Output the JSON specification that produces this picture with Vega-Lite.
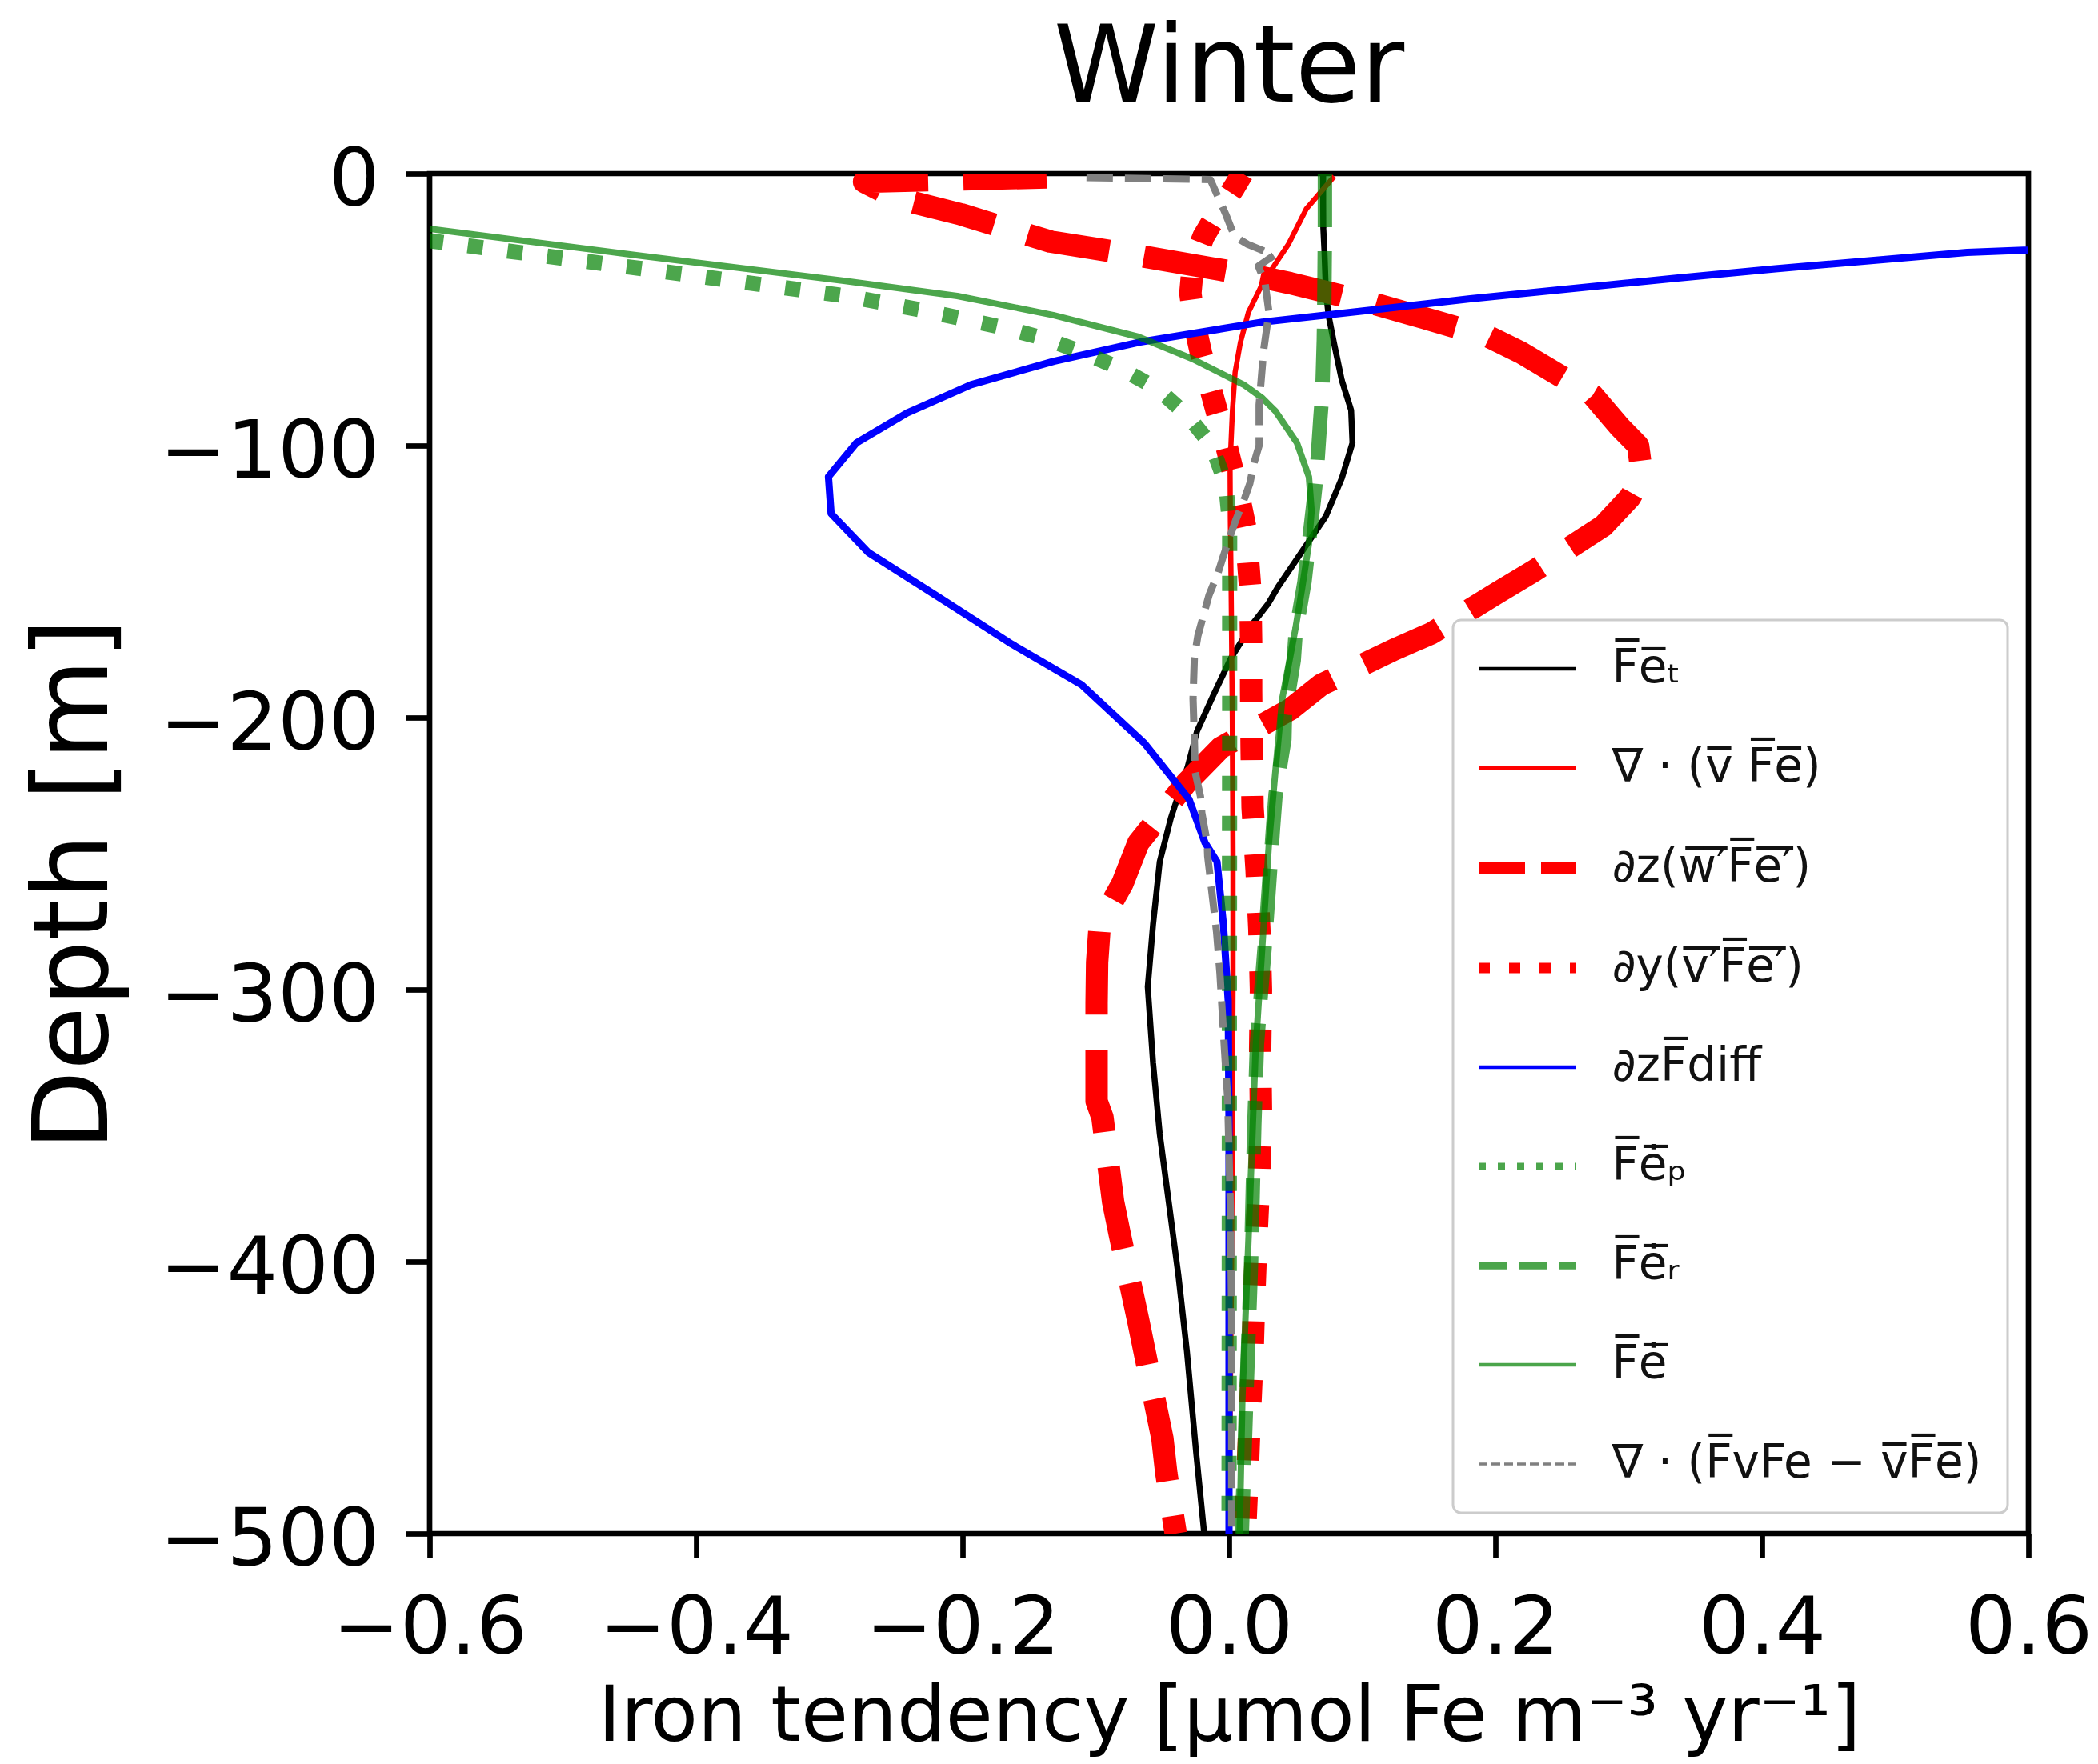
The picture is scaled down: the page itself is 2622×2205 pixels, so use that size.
{
  "$schema": "https://vega.github.io/schema/vega-lite/v6.json",
  "autosize": {"type": "none"},
  "width": 1998,
  "height": 1700,
  "padding": {"left": 537, "top": 217, "right": 87, "bottom": 288},
  "background": "white",
  "title": {"text": "Winter", "font": "DejaVu Sans", "fontSize": 133, "fontWeight": "normal", "color": "black", "anchor": "middle", "baseline": "alphabetic", "offset": 42, "dy": 126},
  "config": {
    "view": {"stroke": "black", "strokeWidth": 6.7},
    "axis": {"grid": false, "domain": false, "tickColor": "black", "tickWidth": 6.7, "tickSize": 30, "labelFont": "DejaVu Sans", "labelFontSize": 100, "labelColor": "black", "labelLimit": 1000, "labelOverlap": false, "labelFlush": false, "labelBound": false, "titleFont": "DejaVu Sans", "titleFontWeight": "normal", "titleColor": "black", "titleLimit": 3000}
  },
  "data": {"values": [
    {"series": "F\u0305e\u0305\u209c", "depth": 0, "tendency": 0.0707},
    {"series": "F\u0305e\u0305\u209c", "depth": -10, "tendency": 0.0707},
    {"series": "F\u0305e\u0305\u209c", "depth": -20, "tendency": 0.0708},
    {"series": "F\u0305e\u0305\u209c", "depth": -29, "tendency": 0.0717},
    {"series": "F\u0305e\u0305\u209c", "depth": -43, "tendency": 0.0727},
    {"series": "F\u0305e\u0305\u209c", "depth": -52, "tendency": 0.0747},
    {"series": "F\u0305e\u0305\u209c", "depth": -62, "tendency": 0.0787},
    {"series": "F\u0305e\u0305\u209c", "depth": -76, "tendency": 0.0847},
    {"series": "F\u0305e\u0305\u209c", "depth": -87, "tendency": 0.0917},
    {"series": "F\u0305e\u0305\u209c", "depth": -99, "tendency": 0.0927},
    {"series": "F\u0305e\u0305\u209c", "depth": -112, "tendency": 0.0847},
    {"series": "F\u0305e\u0305\u209c", "depth": -126, "tendency": 0.0727},
    {"series": "F\u0305e\u0305\u209c", "depth": -139, "tendency": 0.0547},
    {"series": "F\u0305e\u0305\u209c", "depth": -152, "tendency": 0.0367},
    {"series": "F\u0305e\u0305\u209c", "depth": -158, "tendency": 0.0296},
    {"series": "F\u0305e\u0305\u209c", "depth": -166, "tendency": 0.017},
    {"series": "F\u0305e\u0305\u209c", "depth": -178, "tendency": 0.0016},
    {"series": "F\u0305e\u0305\u209c", "depth": -192, "tendency": -0.012},
    {"series": "F\u0305e\u0305\u209c", "depth": -205, "tendency": -0.024},
    {"series": "F\u0305e\u0305\u209c", "depth": -218, "tendency": -0.031},
    {"series": "F\u0305e\u0305\u209c", "depth": -237, "tendency": -0.0437},
    {"series": "F\u0305e\u0305\u209c", "depth": -253, "tendency": -0.052},
    {"series": "F\u0305e\u0305\u209c", "depth": -276, "tendency": -0.057},
    {"series": "F\u0305e\u0305\u209c", "depth": -299, "tendency": -0.061},
    {"series": "F\u0305e\u0305\u209c", "depth": -327, "tendency": -0.057},
    {"series": "F\u0305e\u0305\u209c", "depth": -353, "tendency": -0.052},
    {"series": "F\u0305e\u0305\u209c", "depth": -379, "tendency": -0.045},
    {"series": "F\u0305e\u0305\u209c", "depth": -405, "tendency": -0.038},
    {"series": "F\u0305e\u0305\u209c", "depth": -433, "tendency": -0.0316},
    {"series": "F\u0305e\u0305\u209c", "depth": -470, "tendency": -0.0247},
    {"series": "F\u0305e\u0305\u209c", "depth": -500, "tendency": -0.0186},

    {"series": "\u2207 \u00b7 (v\u0305 F\u0305e\u0305)", "depth": -1, "tendency": 0.079},
    {"series": "\u2207 \u00b7 (v\u0305 F\u0305e\u0305)", "depth": -13, "tendency": 0.058},
    {"series": "\u2207 \u00b7 (v\u0305 F\u0305e\u0305)", "depth": -26, "tendency": 0.0446},
    {"series": "\u2207 \u00b7 (v\u0305 F\u0305e\u0305)", "depth": -33, "tendency": 0.035},
    {"series": "\u2207 \u00b7 (v\u0305 F\u0305e\u0305)", "depth": -41, "tendency": 0.0246},
    {"series": "\u2207 \u00b7 (v\u0305 F\u0305e\u0305)", "depth": -51, "tendency": 0.0146},
    {"series": "\u2207 \u00b7 (v\u0305 F\u0305e\u0305)", "depth": -62, "tendency": 0.0086},
    {"series": "\u2207 \u00b7 (v\u0305 F\u0305e\u0305)", "depth": -73, "tendency": 0.0046},
    {"series": "\u2207 \u00b7 (v\u0305 F\u0305e\u0305)", "depth": -87, "tendency": 0.0026},
    {"series": "\u2207 \u00b7 (v\u0305 F\u0305e\u0305)", "depth": -107, "tendency": 0.0008},
    {"series": "\u2207 \u00b7 (v\u0305 F\u0305e\u0305)", "depth": -127, "tendency": 0.001},
    {"series": "\u2207 \u00b7 (v\u0305 F\u0305e\u0305)", "depth": -152, "tendency": 0.0016},
    {"series": "\u2207 \u00b7 (v\u0305 F\u0305e\u0305)", "depth": -200, "tendency": 0.0025},
    {"series": "\u2207 \u00b7 (v\u0305 F\u0305e\u0305)", "depth": -250, "tendency": 0.003},
    {"series": "\u2207 \u00b7 (v\u0305 F\u0305e\u0305)", "depth": -300, "tendency": 0.003},
    {"series": "\u2207 \u00b7 (v\u0305 F\u0305e\u0305)", "depth": -350, "tendency": 0.0025},
    {"series": "\u2207 \u00b7 (v\u0305 F\u0305e\u0305)", "depth": -400, "tendency": 0.002},
    {"series": "\u2207 \u00b7 (v\u0305 F\u0305e\u0305)", "depth": -450, "tendency": 0.001},
    {"series": "\u2207 \u00b7 (v\u0305 F\u0305e\u0305)", "depth": -500, "tendency": 0.0},

    {"series": "\u2202z(w\u0305\u2032\u0305F\u0305e\u0305\u2032\u0305)", "depth": -1.4, "tendency": -0.137},
    {"series": "\u2202z(w\u0305\u2032\u0305F\u0305e\u0305\u2032\u0305)", "depth": -3, "tendency": -0.274},
    {"series": "\u2202z(w\u0305\u2032\u0305F\u0305e\u0305\u2032\u0305)", "depth": -9, "tendency": -0.25},
    {"series": "\u2202z(w\u0305\u2032\u0305F\u0305e\u0305\u2032\u0305)", "depth": -15, "tendency": -0.201},
    {"series": "\u2202z(w\u0305\u2032\u0305F\u0305e\u0305\u2032\u0305)", "depth": -21, "tendency": -0.161},
    {"series": "\u2202z(w\u0305\u2032\u0305F\u0305e\u0305\u2032\u0305)", "depth": -25, "tendency": -0.134},
    {"series": "\u2202z(w\u0305\u2032\u0305F\u0305e\u0305\u2032\u0305)", "depth": -30, "tendency": -0.07},
    {"series": "\u2202z(w\u0305\u2032\u0305F\u0305e\u0305\u2032\u0305)", "depth": -37.5, "tendency": 0.019},
    {"series": "\u2202z(w\u0305\u2032\u0305F\u0305e\u0305\u2032\u0305)", "depth": -40.3, "tendency": 0.046},
    {"series": "\u2202z(w\u0305\u2032\u0305F\u0305e\u0305\u2032\u0305)", "depth": -47.7, "tendency": 0.108},
    {"series": "\u2202z(w\u0305\u2032\u0305F\u0305e\u0305\u2032\u0305)", "depth": -51.6, "tendency": 0.136},
    {"series": "\u2202z(w\u0305\u2032\u0305F\u0305e\u0305\u2032\u0305)", "depth": -60, "tendency": 0.195},
    {"series": "\u2202z(w\u0305\u2032\u0305F\u0305e\u0305\u2032\u0305)", "depth": -66, "tendency": 0.22},
    {"series": "\u2202z(w\u0305\u2032\u0305F\u0305e\u0305\u2032\u0305)", "depth": -81.5, "tendency": 0.273},
    {"series": "\u2202z(w\u0305\u2032\u0305F\u0305e\u0305\u2032\u0305)", "depth": -93, "tendency": 0.293},
    {"series": "\u2202z(w\u0305\u2032\u0305F\u0305e\u0305\u2032\u0305)", "depth": -100, "tendency": 0.307},
    {"series": "\u2202z(w\u0305\u2032\u0305F\u0305e\u0305\u2032\u0305)", "depth": -111, "tendency": 0.31},
    {"series": "\u2202z(w\u0305\u2032\u0305F\u0305e\u0305\u2032\u0305)", "depth": -119, "tendency": 0.301},
    {"series": "\u2202z(w\u0305\u2032\u0305F\u0305e\u0305\u2032\u0305)", "depth": -129.5, "tendency": 0.281},
    {"series": "\u2202z(w\u0305\u2032\u0305F\u0305e\u0305\u2032\u0305)", "depth": -146, "tendency": 0.229},
    {"series": "\u2202z(w\u0305\u2032\u0305F\u0305e\u0305\u2032\u0305)", "depth": -154, "tendency": 0.202},
    {"series": "\u2202z(w\u0305\u2032\u0305F\u0305e\u0305\u2032\u0305)", "depth": -169, "tendency": 0.152},
    {"series": "\u2202z(w\u0305\u2032\u0305F\u0305e\u0305\u2032\u0305)", "depth": -175, "tendency": 0.124},
    {"series": "\u2202z(w\u0305\u2032\u0305F\u0305e\u0305\u2032\u0305)", "depth": -188, "tendency": 0.069},
    {"series": "\u2202z(w\u0305\u2032\u0305F\u0305e\u0305\u2032\u0305)", "depth": -197, "tendency": 0.046},
    {"series": "\u2202z(w\u0305\u2032\u0305F\u0305e\u0305\u2032\u0305)", "depth": -211, "tendency": -0.006},
    {"series": "\u2202z(w\u0305\u2032\u0305F\u0305e\u0305\u2032\u0305)", "depth": -224, "tendency": -0.032},
    {"series": "\u2202z(w\u0305\u2032\u0305F\u0305e\u0305\u2032\u0305)", "depth": -246, "tendency": -0.068},
    {"series": "\u2202z(w\u0305\u2032\u0305F\u0305e\u0305\u2032\u0305)", "depth": -261, "tendency": -0.08},
    {"series": "\u2202z(w\u0305\u2032\u0305F\u0305e\u0305\u2032\u0305)", "depth": -276, "tendency": -0.097},
    {"series": "\u2202z(w\u0305\u2032\u0305F\u0305e\u0305\u2032\u0305)", "depth": -290, "tendency": -0.099},
    {"series": "\u2202z(w\u0305\u2032\u0305F\u0305e\u0305\u2032\u0305)", "depth": -305, "tendency": -0.0994},
    {"series": "\u2202z(w\u0305\u2032\u0305F\u0305e\u0305\u2032\u0305)", "depth": -341, "tendency": -0.0994},
    {"series": "\u2202z(w\u0305\u2032\u0305F\u0305e\u0305\u2032\u0305)", "depth": -347, "tendency": -0.095},
    {"series": "\u2202z(w\u0305\u2032\u0305F\u0305e\u0305\u2032\u0305)", "depth": -378, "tendency": -0.087},
    {"series": "\u2202z(w\u0305\u2032\u0305F\u0305e\u0305\u2032\u0305)", "depth": -390, "tendency": -0.082},
    {"series": "\u2202z(w\u0305\u2032\u0305F\u0305e\u0305\u2032\u0305)", "depth": -422, "tendency": -0.068},
    {"series": "\u2202z(w\u0305\u2032\u0305F\u0305e\u0305\u2032\u0305)", "depth": -434, "tendency": -0.063},
    {"series": "\u2202z(w\u0305\u2032\u0305F\u0305e\u0305\u2032\u0305)", "depth": -465, "tendency": -0.05},
    {"series": "\u2202z(w\u0305\u2032\u0305F\u0305e\u0305\u2032\u0305)", "depth": -478, "tendency": -0.047},
    {"series": "\u2202z(w\u0305\u2032\u0305F\u0305e\u0305\u2032\u0305)", "depth": -500, "tendency": -0.04},

    {"series": "\u2202y(v\u0305\u2032\u0305F\u0305e\u0305\u2032\u0305)", "depth": 0, "tendency": 0.01},
    {"series": "\u2202y(v\u0305\u2032\u0305F\u0305e\u0305\u2032\u0305)", "depth": -5, "tendency": 0.004},
    {"series": "\u2202y(v\u0305\u2032\u0305F\u0305e\u0305\u2032\u0305)", "depth": -14, "tendency": -0.008},
    {"series": "\u2202y(v\u0305\u2032\u0305F\u0305e\u0305\u2032\u0305)", "depth": -23, "tendency": -0.019},
    {"series": "\u2202y(v\u0305\u2032\u0305F\u0305e\u0305\u2032\u0305)", "depth": -33, "tendency": -0.027},
    {"series": "\u2202y(v\u0305\u2032\u0305F\u0305e\u0305\u2032\u0305)", "depth": -44, "tendency": -0.029},
    {"series": "\u2202y(v\u0305\u2032\u0305F\u0305e\u0305\u2032\u0305)", "depth": -55, "tendency": -0.026},
    {"series": "\u2202y(v\u0305\u2032\u0305F\u0305e\u0305\u2032\u0305)", "depth": -66, "tendency": -0.021},
    {"series": "\u2202y(v\u0305\u2032\u0305F\u0305e\u0305\u2032\u0305)", "depth": -77, "tendency": -0.015},
    {"series": "\u2202y(v\u0305\u2032\u0305F\u0305e\u0305\u2032\u0305)", "depth": -87, "tendency": -0.0094},
    {"series": "\u2202y(v\u0305\u2032\u0305F\u0305e\u0305\u2032\u0305)", "depth": -98, "tendency": -0.003},
    {"series": "\u2202y(v\u0305\u2032\u0305F\u0305e\u0305\u2032\u0305)", "depth": -109, "tendency": 0.0026},
    {"series": "\u2202y(v\u0305\u2032\u0305F\u0305e\u0305\u2032\u0305)", "depth": -120, "tendency": 0.008},
    {"series": "\u2202y(v\u0305\u2032\u0305F\u0305e\u0305\u2032\u0305)", "depth": -131, "tendency": 0.0126},
    {"series": "\u2202y(v\u0305\u2032\u0305F\u0305e\u0305\u2032\u0305)", "depth": -153, "tendency": 0.016},
    {"series": "\u2202y(v\u0305\u2032\u0305F\u0305e\u0305\u2032\u0305)", "depth": -172, "tendency": 0.0166},
    {"series": "\u2202y(v\u0305\u2032\u0305F\u0305e\u0305\u2032\u0305)", "depth": -190, "tendency": 0.0166},
    {"series": "\u2202y(v\u0305\u2032\u0305F\u0305e\u0305\u2032\u0305)", "depth": -211, "tendency": 0.017},
    {"series": "\u2202y(v\u0305\u2032\u0305F\u0305e\u0305\u2032\u0305)", "depth": -233, "tendency": 0.0177},
    {"series": "\u2202y(v\u0305\u2032\u0305F\u0305e\u0305\u2032\u0305)", "depth": -256, "tendency": 0.0207},
    {"series": "\u2202y(v\u0305\u2032\u0305F\u0305e\u0305\u2032\u0305)", "depth": -278, "tendency": 0.0228},
    {"series": "\u2202y(v\u0305\u2032\u0305F\u0305e\u0305\u2032\u0305)", "depth": -300, "tendency": 0.024},
    {"series": "\u2202y(v\u0305\u2032\u0305F\u0305e\u0305\u2032\u0305)", "depth": -322, "tendency": 0.0234},
    {"series": "\u2202y(v\u0305\u2032\u0305F\u0305e\u0305\u2032\u0305)", "depth": -345, "tendency": 0.024},
    {"series": "\u2202y(v\u0305\u2032\u0305F\u0305e\u0305\u2032\u0305)", "depth": -368, "tendency": 0.0228},
    {"series": "\u2202y(v\u0305\u2032\u0305F\u0305e\u0305\u2032\u0305)", "depth": -390, "tendency": 0.0207},
    {"series": "\u2202y(v\u0305\u2032\u0305F\u0305e\u0305\u2032\u0305)", "depth": -412, "tendency": 0.019},
    {"series": "\u2202y(v\u0305\u2032\u0305F\u0305e\u0305\u2032\u0305)", "depth": -435, "tendency": 0.0176},
    {"series": "\u2202y(v\u0305\u2032\u0305F\u0305e\u0305\u2032\u0305)", "depth": -457, "tendency": 0.0156},
    {"series": "\u2202y(v\u0305\u2032\u0305F\u0305e\u0305\u2032\u0305)", "depth": -480, "tendency": 0.0138},
    {"series": "\u2202y(v\u0305\u2032\u0305F\u0305e\u0305\u2032\u0305)", "depth": -500, "tendency": 0.012},

    {"series": "\u2202zF\u0305diff", "depth": -5, "tendency": 3.5},
    {"series": "\u2202zF\u0305diff", "depth": -15, "tendency": 1.6},
    {"series": "\u2202zF\u0305diff", "depth": -25, "tendency": 0.75},
    {"series": "\u2202zF\u0305diff", "depth": -29, "tendency": 0.554},
    {"series": "\u2202zF\u0305diff", "depth": -35, "tendency": 0.41},
    {"series": "\u2202zF\u0305diff", "depth": -38.4, "tendency": 0.337},
    {"series": "\u2202zF\u0305diff", "depth": -46, "tendency": 0.181},
    {"series": "\u2202zF\u0305diff", "depth": -50, "tendency": 0.11},
    {"series": "\u2202zF\u0305diff", "depth": -54.6, "tendency": 0.025},
    {"series": "\u2202zF\u0305diff", "depth": -62, "tendency": -0.0675},
    {"series": "\u2202zF\u0305diff", "depth": -69, "tendency": -0.1315},
    {"series": "\u2202zF\u0305diff", "depth": -77.6, "tendency": -0.1936},
    {"series": "\u2202zF\u0305diff", "depth": -88, "tendency": -0.2416},
    {"series": "\u2202zF\u0305diff", "depth": -99, "tendency": -0.2797},
    {"series": "\u2202zF\u0305diff", "depth": -111.4, "tendency": -0.3007},
    {"series": "\u2202zF\u0305diff", "depth": -125, "tendency": -0.2987},
    {"series": "\u2202zF\u0305diff", "depth": -139.3, "tendency": -0.2707},
    {"series": "\u2202zF\u0305diff", "depth": -155.7, "tendency": -0.218},
    {"series": "\u2202zF\u0305diff", "depth": -173, "tendency": -0.163},
    {"series": "\u2202zF\u0305diff", "depth": -188, "tendency": -0.1105},
    {"series": "\u2202zF\u0305diff", "depth": -209.4, "tendency": -0.0635},
    {"series": "\u2202zF\u0305diff", "depth": -230, "tendency": -0.03},
    {"series": "\u2202zF\u0305diff", "depth": -246, "tendency": -0.018},
    {"series": "\u2202zF\u0305diff", "depth": -253, "tendency": -0.009},
    {"series": "\u2202zF\u0305diff", "depth": -276, "tendency": -0.0042},
    {"series": "\u2202zF\u0305diff", "depth": -304, "tendency": -0.0006},
    {"series": "\u2202zF\u0305diff", "depth": -350, "tendency": 0.0},
    {"series": "\u2202zF\u0305diff", "depth": -400, "tendency": 0.0},
    {"series": "\u2202zF\u0305diff", "depth": -450, "tendency": 0.0},
    {"series": "\u2202zF\u0305diff", "depth": -500, "tendency": 0.0},

    {"series": "F\u0305e\u0307\u0305\u209a", "depth": -15, "tendency": -0.75},
    {"series": "F\u0305e\u0307\u0305\u209a", "depth": -25, "tendency": -0.595},
    {"series": "F\u0305e\u0307\u0305\u209a", "depth": -35, "tendency": -0.44},
    {"series": "F\u0305e\u0307\u0305\u209a", "depth": -45, "tendency": -0.287},
    {"series": "F\u0305e\u0307\u0305\u209a", "depth": -50.6, "tendency": -0.226},
    {"series": "F\u0305e\u0307\u0305\u209a", "depth": -57, "tendency": -0.166},
    {"series": "F\u0305e\u0307\u0305\u209a", "depth": -61, "tendency": -0.136},
    {"series": "F\u0305e\u0307\u0305\u209a", "depth": -66, "tendency": -0.1085},
    {"series": "F\u0305e\u0307\u0305\u209a", "depth": -72, "tendency": -0.08},
    {"series": "F\u0305e\u0307\u0305\u209a", "depth": -79, "tendency": -0.054},
    {"series": "F\u0305e\u0307\u0305\u209a", "depth": -89, "tendency": -0.031},
    {"series": "F\u0305e\u0307\u0305\u209a", "depth": -100, "tendency": -0.013},
    {"series": "F\u0305e\u0307\u0305\u209a", "depth": -114, "tendency": -0.0025},
    {"series": "F\u0305e\u0307\u0305\u209a", "depth": -129, "tendency": 0.0005},
    {"series": "F\u0305e\u0307\u0305\u209a", "depth": -150, "tendency": 0.0005},
    {"series": "F\u0305e\u0307\u0305\u209a", "depth": -200, "tendency": 0.0005},
    {"series": "F\u0305e\u0307\u0305\u209a", "depth": -300, "tendency": 0.0003},
    {"series": "F\u0305e\u0307\u0305\u209a", "depth": -400, "tendency": 0.0002},
    {"series": "F\u0305e\u0307\u0305\u209a", "depth": -500, "tendency": 0.0},

    {"series": "F\u0305e\u0307\u0305\u1d63", "depth": 0, "tendency": 0.072},
    {"series": "F\u0305e\u0307\u0305\u1d63", "depth": -22, "tendency": 0.072},
    {"series": "F\u0305e\u0307\u0305\u1d63", "depth": -51, "tendency": 0.0715},
    {"series": "F\u0305e\u0307\u0305\u1d63", "depth": -61, "tendency": 0.0712},
    {"series": "F\u0305e\u0307\u0305\u1d63", "depth": -81, "tendency": 0.07},
    {"series": "F\u0305e\u0307\u0305\u1d63", "depth": -90, "tendency": 0.0686},
    {"series": "F\u0305e\u0307\u0305\u1d63", "depth": -111, "tendency": 0.0657},
    {"series": "F\u0305e\u0307\u0305\u1d63", "depth": -120, "tendency": 0.0637},
    {"series": "F\u0305e\u0307\u0305\u1d63", "depth": -140, "tendency": 0.059},
    {"series": "F\u0305e\u0307\u0305\u1d63", "depth": -150, "tendency": 0.0567},
    {"series": "F\u0305e\u0307\u0305\u1d63", "depth": -169, "tendency": 0.05},
    {"series": "F\u0305e\u0307\u0305\u1d63", "depth": -179, "tendency": 0.0486},
    {"series": "F\u0305e\u0307\u0305\u1d63", "depth": -199, "tendency": 0.042},
    {"series": "F\u0305e\u0307\u0305\u1d63", "depth": -208, "tendency": 0.0416},
    {"series": "F\u0305e\u0307\u0305\u1d63", "depth": -228, "tendency": 0.035},
    {"series": "F\u0305e\u0307\u0305\u1d63", "depth": -241, "tendency": 0.033},
    {"series": "F\u0305e\u0307\u0305\u1d63", "depth": -283, "tendency": 0.027},
    {"series": "F\u0305e\u0307\u0305\u1d63", "depth": -320, "tendency": 0.021},
    {"series": "F\u0305e\u0307\u0305\u1d63", "depth": -350, "tendency": 0.019},
    {"series": "F\u0305e\u0307\u0305\u1d63", "depth": -400, "tendency": 0.0166},
    {"series": "F\u0305e\u0307\u0305\u1d63", "depth": -450, "tendency": 0.013},
    {"series": "F\u0305e\u0307\u0305\u1d63", "depth": -500, "tendency": 0.0096},

    {"series": "F\u0305e\u0307\u0305", "depth": -10, "tendency": -0.78},
    {"series": "F\u0305e\u0307\u0305", "depth": -20, "tendency": -0.605},
    {"series": "F\u0305e\u0307\u0305", "depth": -30, "tendency": -0.445},
    {"series": "F\u0305e\u0307\u0305", "depth": -39.5, "tendency": -0.288},
    {"series": "F\u0305e\u0307\u0305", "depth": -45, "tendency": -0.204},
    {"series": "F\u0305e\u0307\u0305", "depth": -52, "tendency": -0.132},
    {"series": "F\u0305e\u0307\u0305", "depth": -60, "tendency": -0.068},
    {"series": "F\u0305e\u0307\u0305", "depth": -68, "tendency": -0.028},
    {"series": "F\u0305e\u0307\u0305", "depth": -77.6, "tendency": 0.011},
    {"series": "F\u0305e\u0307\u0305", "depth": -82.5, "tendency": 0.025},
    {"series": "F\u0305e\u0307\u0305", "depth": -87.4, "tendency": 0.035},
    {"series": "F\u0305e\u0307\u0305", "depth": -99, "tendency": 0.051},
    {"series": "F\u0305e\u0307\u0305", "depth": -111.5, "tendency": 0.06},
    {"series": "F\u0305e\u0307\u0305", "depth": -124, "tendency": 0.062},
    {"series": "F\u0305e\u0307\u0305", "depth": -136, "tendency": 0.06},
    {"series": "F\u0305e\u0307\u0305", "depth": -152, "tendency": 0.055},
    {"series": "F\u0305e\u0307\u0305", "depth": -167, "tendency": 0.05},
    {"series": "F\u0305e\u0307\u0305", "depth": -193, "tendency": 0.04},
    {"series": "F\u0305e\u0307\u0305", "depth": -221, "tendency": 0.0346},
    {"series": "F\u0305e\u0307\u0305", "depth": -246, "tendency": 0.03},
    {"series": "F\u0305e\u0307\u0305", "depth": -269, "tendency": 0.027},
    {"series": "F\u0305e\u0307\u0305", "depth": -322, "tendency": 0.02},
    {"series": "F\u0305e\u0307\u0305", "depth": -387, "tendency": 0.015},
    {"series": "F\u0305e\u0307\u0305", "depth": -451, "tendency": 0.01},
    {"series": "F\u0305e\u0307\u0305", "depth": -500, "tendency": 0.008},

    {"series": "\u2207 \u00b7 (F\u0305vFe \u2212 v\u0305F\u0305e\u0305)", "depth": -1.5, "tendency": -0.107},
    {"series": "\u2207 \u00b7 (F\u0305vFe \u2212 v\u0305F\u0305e\u0305)", "depth": -2.2, "tendency": -0.014},
    {"series": "\u2207 \u00b7 (F\u0305vFe \u2212 v\u0305F\u0305e\u0305)", "depth": -9.5, "tendency": -0.0074},
    {"series": "\u2207 \u00b7 (F\u0305vFe \u2212 v\u0305F\u0305e\u0305)", "depth": -15, "tendency": -0.0024},
    {"series": "\u2207 \u00b7 (F\u0305vFe \u2212 v\u0305F\u0305e\u0305)", "depth": -23, "tendency": 0.004},
    {"series": "\u2207 \u00b7 (F\u0305vFe \u2212 v\u0305F\u0305e\u0305)", "depth": -26, "tendency": 0.014},
    {"series": "\u2207 \u00b7 (F\u0305vFe \u2212 v\u0305F\u0305e\u0305)", "depth": -30, "tendency": 0.034},
    {"series": "\u2207 \u00b7 (F\u0305vFe \u2212 v\u0305F\u0305e\u0305)", "depth": -34, "tendency": 0.022},
    {"series": "\u2207 \u00b7 (F\u0305vFe \u2212 v\u0305F\u0305e\u0305)", "depth": -40, "tendency": 0.027},
    {"series": "\u2207 \u00b7 (F\u0305vFe \u2212 v\u0305F\u0305e\u0305)", "depth": -51, "tendency": 0.03},
    {"series": "\u2207 \u00b7 (F\u0305vFe \u2212 v\u0305F\u0305e\u0305)", "depth": -65, "tendency": 0.026},
    {"series": "\u2207 \u00b7 (F\u0305vFe \u2212 v\u0305F\u0305e\u0305)", "depth": -85, "tendency": 0.0226},
    {"series": "\u2207 \u00b7 (F\u0305vFe \u2212 v\u0305F\u0305e\u0305)", "depth": -100, "tendency": 0.0226},
    {"series": "\u2207 \u00b7 (F\u0305vFe \u2212 v\u0305F\u0305e\u0305)", "depth": -106, "tendency": 0.019},
    {"series": "\u2207 \u00b7 (F\u0305vFe \u2212 v\u0305F\u0305e\u0305)", "depth": -114, "tendency": 0.0156},
    {"series": "\u2207 \u00b7 (F\u0305vFe \u2212 v\u0305F\u0305e\u0305)", "depth": -119, "tendency": 0.012},
    {"series": "\u2207 \u00b7 (F\u0305vFe \u2212 v\u0305F\u0305e\u0305)", "depth": -127.5, "tendency": 0.005},
    {"series": "\u2207 \u00b7 (F\u0305vFe \u2212 v\u0305F\u0305e\u0305)", "depth": -133, "tendency": 0.001},
    {"series": "\u2207 \u00b7 (F\u0305vFe \u2212 v\u0305F\u0305e\u0305)", "depth": -141, "tendency": -0.0045},
    {"series": "\u2207 \u00b7 (F\u0305vFe \u2212 v\u0305F\u0305e\u0305)", "depth": -147, "tendency": -0.0084},
    {"series": "\u2207 \u00b7 (F\u0305vFe \u2212 v\u0305F\u0305e\u0305)", "depth": -155, "tendency": -0.015},
    {"series": "\u2207 \u00b7 (F\u0305vFe \u2212 v\u0305F\u0305e\u0305)", "depth": -161, "tendency": -0.0184},
    {"series": "\u2207 \u00b7 (F\u0305vFe \u2212 v\u0305F\u0305e\u0305)", "depth": -170, "tendency": -0.0234},
    {"series": "\u2207 \u00b7 (F\u0305vFe \u2212 v\u0305F\u0305e\u0305)", "depth": -178, "tendency": -0.026},
    {"series": "\u2207 \u00b7 (F\u0305vFe \u2212 v\u0305F\u0305e\u0305)", "depth": -193, "tendency": -0.027},
    {"series": "\u2207 \u00b7 (F\u0305vFe \u2212 v\u0305F\u0305e\u0305)", "depth": -208, "tendency": -0.026},
    {"series": "\u2207 \u00b7 (F\u0305vFe \u2212 v\u0305F\u0305e\u0305)", "depth": -220, "tendency": -0.0254},
    {"series": "\u2207 \u00b7 (F\u0305vFe \u2212 v\u0305F\u0305e\u0305)", "depth": -229, "tendency": -0.0214},
    {"series": "\u2207 \u00b7 (F\u0305vFe \u2212 v\u0305F\u0305e\u0305)", "depth": -235, "tendency": -0.0204},
    {"series": "\u2207 \u00b7 (F\u0305vFe \u2212 v\u0305F\u0305e\u0305)", "depth": -246, "tendency": -0.0164},
    {"series": "\u2207 \u00b7 (F\u0305vFe \u2212 v\u0305F\u0305e\u0305)", "depth": -251, "tendency": -0.016},
    {"series": "\u2207 \u00b7 (F\u0305vFe \u2212 v\u0305F\u0305e\u0305)", "depth": -279, "tendency": -0.0093},
    {"series": "\u2207 \u00b7 (F\u0305vFe \u2212 v\u0305F\u0305e\u0305)", "depth": -294, "tendency": -0.0068},
    {"series": "\u2207 \u00b7 (F\u0305vFe \u2212 v\u0305F\u0305e\u0305)", "depth": -322, "tendency": -0.0034},
    {"series": "\u2207 \u00b7 (F\u0305vFe \u2212 v\u0305F\u0305e\u0305)", "depth": -340, "tendency": -0.001},
    {"series": "\u2207 \u00b7 (F\u0305vFe \u2212 v\u0305F\u0305e\u0305)", "depth": -380, "tendency": 0.001},
    {"series": "\u2207 \u00b7 (F\u0305vFe \u2212 v\u0305F\u0305e\u0305)", "depth": -420, "tendency": 0.002},
    {"series": "\u2207 \u00b7 (F\u0305vFe \u2212 v\u0305F\u0305e\u0305)", "depth": -460, "tendency": 0.002},
    {"series": "\u2207 \u00b7 (F\u0305vFe \u2212 v\u0305F\u0305e\u0305)", "depth": -500, "tendency": 0.002}
  ]},
  "encoding": {
    "x": {
      "field": "tendency", "type": "quantitative",
      "scale": {"domain": [-0.6, 0.6], "nice": false, "zero": false},
      "axis": {
        "values": [-0.6, -0.4, -0.2, 0, 0.2, 0.4, 0.6], "format": ".1f",
        "labelPadding": 40, "labelBaseline": "top",
        "title": "Iron tendency [\u03bcmol Fe m\u207b\u00b3 yr\u207b\u00b9]",
        "titleFontSize": 96, "titleBaseline": "alphabetic", "titleAlign": "center",
        "titleX": 999, "titleY": 258
      }
    },
    "y": {
      "field": "depth", "type": "quantitative",
      "scale": {"domain": [-500, 0], "nice": false, "zero": false},
      "axis": {
        "values": [0, -100, -200, -300, -400, -500], "format": "d",
        "labelPadding": 33, "labelBaseline": "middle", "labelOffset": 9,
        "title": "Depth [m]",
        "titleFontSize": 130, "titleAngle": -90, "titleBaseline": "alphabetic", "titleAlign": "center",
        "titleX": -404, "titleY": 888
      }
    },
    "order": {"field": "depth", "type": "quantitative", "sort": "descending"},
    "color": {
      "field": "series", "type": "nominal",
      "scale": {
        "domain": [
          "F\u0305e\u0305\u209c",
          "\u2207 \u00b7 (v\u0305 F\u0305e\u0305)",
          "\u2202z(w\u0305\u2032\u0305F\u0305e\u0305\u2032\u0305)",
          "\u2202y(v\u0305\u2032\u0305F\u0305e\u0305\u2032\u0305)",
          "\u2202zF\u0305diff",
          "F\u0305e\u0307\u0305\u209a",
          "F\u0305e\u0307\u0305\u1d63",
          "F\u0305e\u0307\u0305",
          "\u2207 \u00b7 (F\u0305vFe \u2212 v\u0305F\u0305e\u0305)"
        ],
        "range": ["#000000", "#ff0000", "#ff0000", "#ff0000", "#0000ff", "#008000", "#008000", "#008000", "#808080"]
      },
      "legend": {
        "title": null,
        "orient": "bottom-right",
        "offset": 26,
        "padding": 32,
        "rowPadding": 66,
        "labelFont": "DejaVu Sans",
        "labelFontSize": 58,
        "labelColor": "#111111",
        "labelLimit": 1200,
        "labelOffset": 77,
        "symbolOffset": 31.5,
        "symbolType": "stroke",
        "symbolSize": 14641,
        "strokeColor": "#cccccc",
        "fillColor": "rgba(255,255,255,0.85)",
        "cornerRadius": 10,
        "encode": {
          "legend": {"update": {"strokeWidth": {"value": 3}}},
          "symbols": {
            "update": {
              "size": {"signal": "(isValid(datum.index) ? 14641 : 1)"},
              "strokeWidth": {"signal": "(isValid(datum.index) ? [4.5, 4.5, 15, 13, 4.5, 9, 9.5, 4.5, 3.5][datum.index] : 0)"},
              "strokeDash": {"signal": "(isValid(datum.index) ? [[1, 0], [1, 0], [58, 20], [14, 24], [1, 0], [9, 15], [35, 15], [1, 0], [11, 5]][datum.index] : [1, 0])"},
              "opacity": {"signal": "(isValid(datum.index) && datum.index >= 5 && datum.index <= 7 ? 0.7 : 1)"}
            }
          }
        }
      }
    }
  },
  "layer": [
    {"transform": [{"filter": {"field": "series", "equal": "F\u0305e\u0305\u209c"}}],
     "mark": {"type": "line", "clip": true, "strokeWidth": 7.5, "strokeJoin": "round"}},
    {"transform": [{"filter": {"field": "series", "equal": "\u2207 \u00b7 (v\u0305 F\u0305e\u0305)"}}],
     "mark": {"type": "line", "clip": true, "strokeWidth": 6.5, "strokeJoin": "round"}},
    {"transform": [{"filter": {"field": "series", "equal": "\u2202z(w\u0305\u2032\u0305F\u0305e\u0305\u2032\u0305)"}}],
     "mark": {"type": "line", "clip": true, "strokeWidth": 28, "strokeDash": [104, 44], "strokeCap": "butt", "strokeJoin": "round"}},
    {"transform": [{"filter": {"field": "series", "equal": "\u2202y(v\u0305\u2032\u0305F\u0305e\u0305\u2032\u0305)"}}],
     "mark": {"type": "line", "clip": true, "strokeWidth": 28, "strokeDash": [28, 45], "strokeCap": "butt", "strokeJoin": "round"}},
    {"transform": [{"filter": {"field": "series", "equal": "\u2202zF\u0305diff"}}],
     "mark": {"type": "line", "clip": true, "strokeWidth": 9, "strokeJoin": "round"}},
    {"transform": [{"filter": {"field": "series", "equal": "F\u0305e\u0307\u0305\u209a"}}],
     "mark": {"type": "line", "clip": true, "strokeWidth": 19, "strokeDash": [19, 31], "strokeCap": "butt", "strokeJoin": "round", "opacity": 0.7}},
    {"transform": [{"filter": {"field": "series", "equal": "F\u0305e\u0307\u0305\u1d63"}}],
     "mark": {"type": "line", "clip": true, "strokeWidth": 18, "strokeDash": [67, 30], "strokeCap": "butt", "strokeJoin": "round", "opacity": 0.7}},
    {"transform": [{"filter": {"field": "series", "equal": "F\u0305e\u0307\u0305"}}],
     "mark": {"type": "line", "clip": true, "strokeWidth": 8, "strokeJoin": "round", "opacity": 0.7}},
    {"transform": [{"filter": {"field": "series", "equal": "\u2207 \u00b7 (F\u0305vFe \u2212 v\u0305F\u0305e\u0305)"}}],
     "mark": {"type": "line", "clip": true, "strokeWidth": 9, "strokeDash": [33, 15], "strokeCap": "butt", "strokeJoin": "round"}}
  ]
}
